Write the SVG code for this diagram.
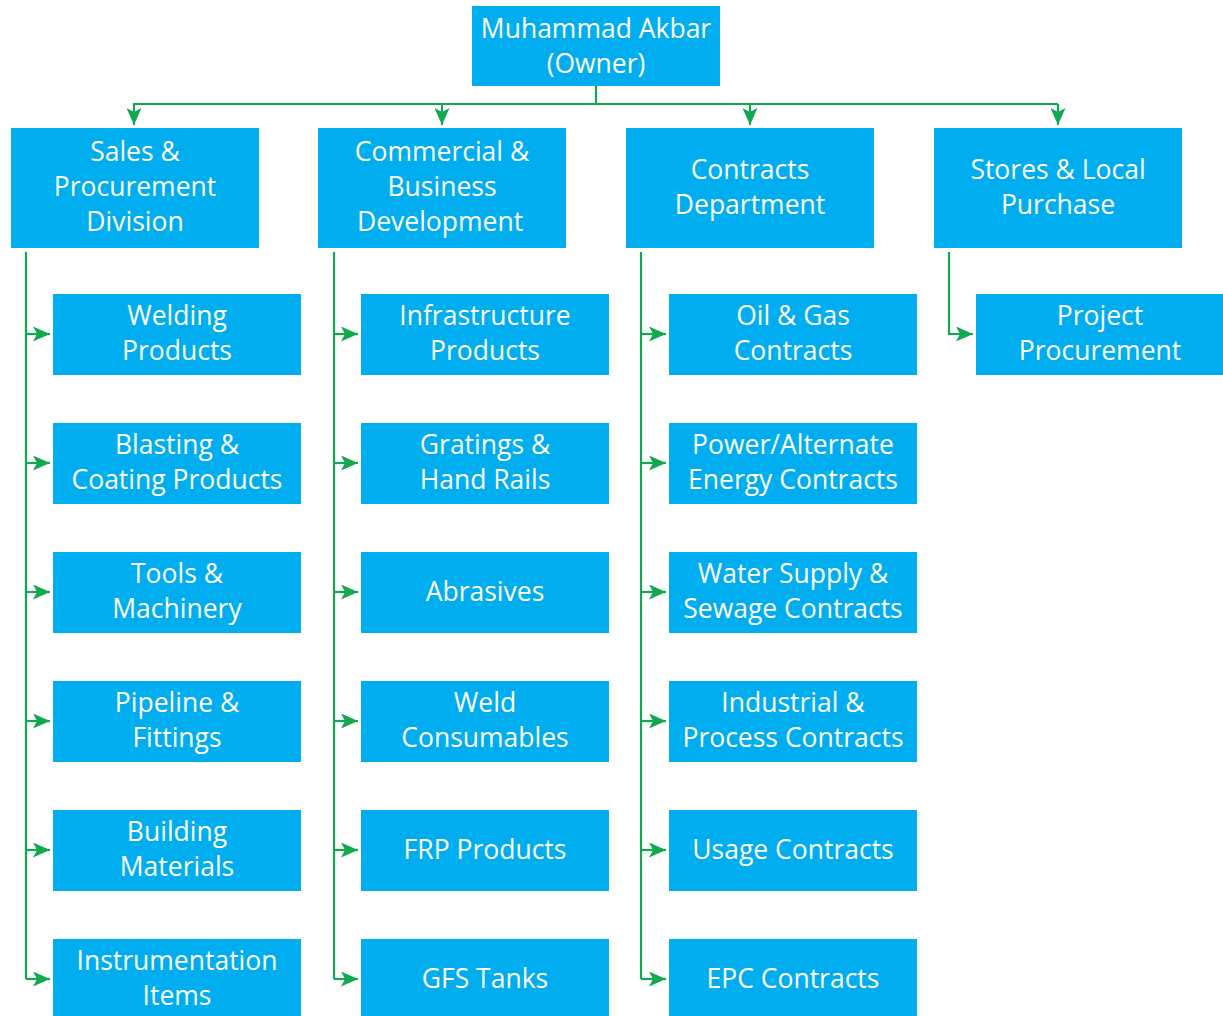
<svg xmlns="http://www.w3.org/2000/svg" width="1223" height="1016" viewBox="0 0 1223 1016">
<style>
.b{fill:#00AEEF}
.t{fill:#ffffff;font-family:"Open Sans","Noto Sans","Liberation Sans",sans-serif;font-size:26.5px;text-anchor:middle}
.c{fill:none;stroke:#13A750;stroke-width:2.2}
</style>
<defs>
<marker id="ar" markerUnits="userSpaceOnUse" viewBox="0 0 17 15" markerWidth="17" markerHeight="15" refX="17" refY="7.5" orient="auto">
<path d="M0,0 L17,7.5 L0,15 L4,7.5 Z" fill="#13A750"/>
</marker>
</defs>
<rect width="1223" height="1016" fill="#ffffff"/>
<g id="connectors">
<path class="c" d="M596,86 V104"/>
<path class="c" d="M133,104 H1058"/>
<path class="c" d="M134,104 V125" marker-end="url(#ar)"/>
<path class="c" d="M442,104 V125" marker-end="url(#ar)"/>
<path class="c" d="M750,104 V125" marker-end="url(#ar)"/>
<path class="c" d="M1058,104 V125" marker-end="url(#ar)"/>
<path class="c" d="M26,252 V979"/>
<path class="c" d="M26,334 H50" marker-end="url(#ar)"/>
<path class="c" d="M26,463 H50" marker-end="url(#ar)"/>
<path class="c" d="M26,592 H50" marker-end="url(#ar)"/>
<path class="c" d="M26,721 H50" marker-end="url(#ar)"/>
<path class="c" d="M26,850 H50" marker-end="url(#ar)"/>
<path class="c" d="M26,979 H50" marker-end="url(#ar)"/>
<path class="c" d="M334,252 V979"/>
<path class="c" d="M334,334 H358" marker-end="url(#ar)"/>
<path class="c" d="M334,463 H358" marker-end="url(#ar)"/>
<path class="c" d="M334,592 H358" marker-end="url(#ar)"/>
<path class="c" d="M334,721 H358" marker-end="url(#ar)"/>
<path class="c" d="M334,850 H358" marker-end="url(#ar)"/>
<path class="c" d="M334,979 H358" marker-end="url(#ar)"/>
<path class="c" d="M641,252 V979"/>
<path class="c" d="M641,334 H666" marker-end="url(#ar)"/>
<path class="c" d="M641,463 H666" marker-end="url(#ar)"/>
<path class="c" d="M641,592 H666" marker-end="url(#ar)"/>
<path class="c" d="M641,721 H666" marker-end="url(#ar)"/>
<path class="c" d="M641,850 H666" marker-end="url(#ar)"/>
<path class="c" d="M641,979 H666" marker-end="url(#ar)"/>
<path class="c" d="M949,252 V334 H973" marker-end="url(#ar)"/>
</g>
<g id="root"><rect class="b" x="472" y="6" width="248" height="80"/><text class="t" x="596" y="38">Muhammad Akbar</text><text class="t" x="596" y="73">(Owner)</text></g>
<g id="sales"><rect class="b" x="11" y="128" width="248" height="120"/><text class="t" x="135" y="161">Sales &amp;</text><text class="t" x="135" y="196">Procurement</text><text class="t" x="135" y="231">Division</text></g>
<g id="commercial"><rect class="b" x="318" y="128" width="248" height="120"/><text class="t" x="442" y="161">Commercial &amp;</text><text class="t" x="442" y="196">Business</text><text class="t" x="440" y="231">Development</text></g>
<g id="contracts"><rect class="b" x="626" y="128" width="248" height="120"/><text class="t" x="750" y="179">Contracts</text><text class="t" x="750" y="214">Department</text></g>
<g id="stores"><rect class="b" x="934" y="128" width="248" height="120"/><text class="t" x="1058" y="179">Stores &amp; Local</text><text class="t" x="1058" y="214">Purchase</text></g>
<g id="welding"><rect class="b" x="53" y="294" width="248" height="81"/><text class="t" x="177" y="325">Welding</text><text class="t" x="177" y="360">Products</text></g>
<g id="blasting"><rect class="b" x="53" y="423" width="248" height="81"/><text class="t" x="177" y="454">Blasting &amp;</text><text class="t" x="177" y="489">Coating Products</text></g>
<g id="tools"><rect class="b" x="53" y="552" width="248" height="81"/><text class="t" x="177" y="583">Tools &amp;</text><text class="t" x="177" y="618">Machinery</text></g>
<g id="pipeline"><rect class="b" x="53" y="681" width="248" height="81"/><text class="t" x="177" y="712">Pipeline &amp;</text><text class="t" x="177" y="747">Fittings</text></g>
<g id="building"><rect class="b" x="53" y="810" width="248" height="81"/><text class="t" x="177" y="841">Building</text><text class="t" x="177" y="876">Materials</text></g>
<g id="instrumentation"><rect class="b" x="53" y="939" width="248" height="81"/><text class="t" x="177" y="970">Instrumentation</text><text class="t" x="177" y="1005">Items</text></g>
<g id="infrastructure"><rect class="b" x="361" y="294" width="248" height="81"/><text class="t" x="485" y="325">Infrastructure</text><text class="t" x="485" y="360">Products</text></g>
<g id="gratings"><rect class="b" x="361" y="423" width="248" height="81"/><text class="t" x="485" y="454">Gratings &amp;</text><text class="t" x="485" y="489">Hand Rails</text></g>
<g id="abrasives"><rect class="b" x="361" y="552" width="248" height="81"/><text class="t" x="485" y="601">Abrasives</text></g>
<g id="weld"><rect class="b" x="361" y="681" width="248" height="81"/><text class="t" x="485" y="712">Weld</text><text class="t" x="485" y="747">Consumables</text></g>
<g id="frp"><rect class="b" x="361" y="810" width="248" height="81"/><text class="t" x="485" y="859">FRP Products</text></g>
<g id="gfs"><rect class="b" x="361" y="939" width="248" height="81"/><text class="t" x="485" y="988">GFS Tanks</text></g>
<g id="oilgas"><rect class="b" x="669" y="294" width="248" height="81"/><text class="t" x="793" y="325">Oil &amp; Gas</text><text class="t" x="793" y="360">Contracts</text></g>
<g id="power"><rect class="b" x="669" y="423" width="248" height="81"/><text class="t" x="793" y="454">Power/Alternate</text><text class="t" x="793" y="489">Energy Contracts</text></g>
<g id="water"><rect class="b" x="669" y="552" width="248" height="81"/><text class="t" x="793" y="583">Water Supply &amp;</text><text class="t" x="793" y="618">Sewage Contracts</text></g>
<g id="industrial"><rect class="b" x="669" y="681" width="248" height="81"/><text class="t" x="793" y="712">Industrial &amp;</text><text class="t" x="793" y="747">Process Contracts</text></g>
<g id="usage"><rect class="b" x="669" y="810" width="248" height="81"/><text class="t" x="793" y="859">Usage Contracts</text></g>
<g id="epc"><rect class="b" x="669" y="939" width="248" height="81"/><text class="t" x="793" y="988">EPC Contracts</text></g>
<g id="project"><rect class="b" x="976" y="294" width="247" height="81"/><text class="t" x="1100" y="325">Project</text><text class="t" x="1100" y="360">Procurement</text></g>
</svg>
